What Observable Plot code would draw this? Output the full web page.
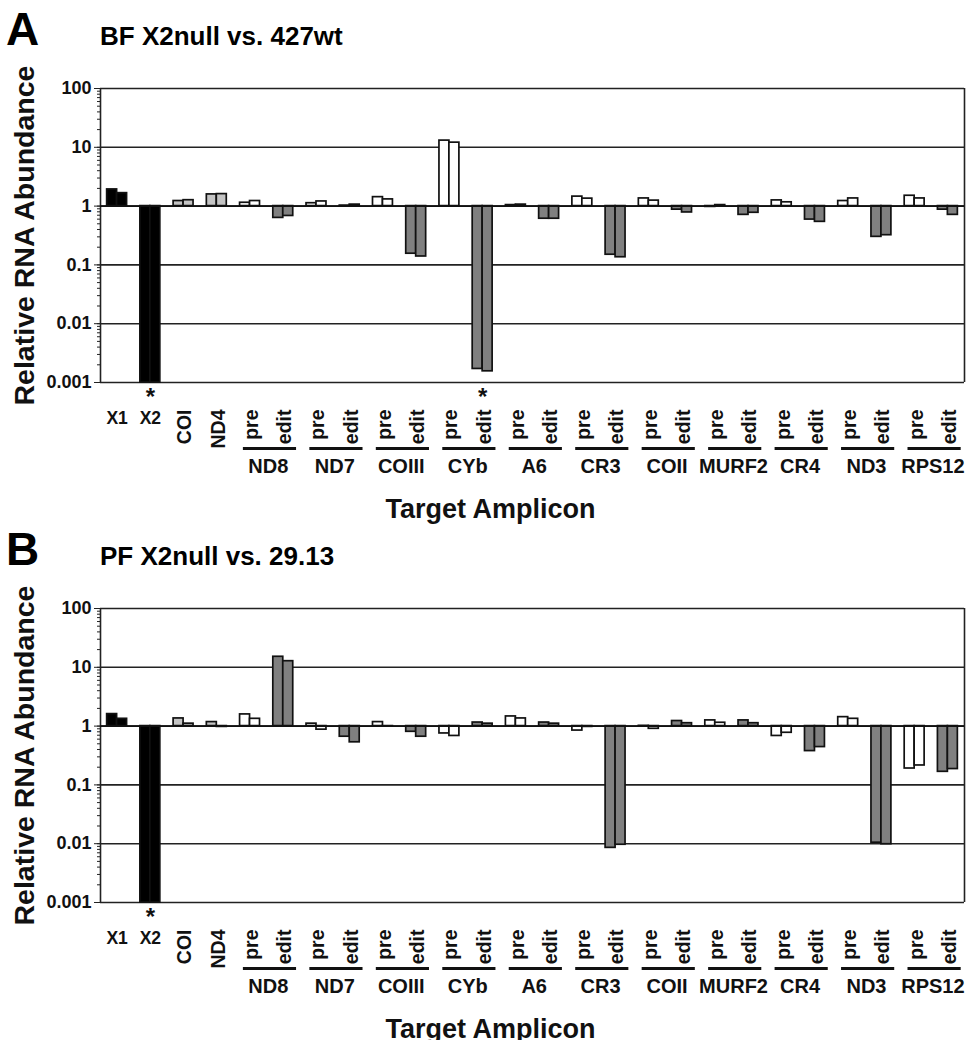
<!DOCTYPE html>
<html>
<head>
<meta charset="utf-8">
<script src="https://cdn.jsdelivr.net/npm/d3@7"></script>
<script src="https://cdn.jsdelivr.net/npm/@observablehq/plot@0.6"></script>
<style>
  body { margin: 0; background: #fff; font-family: "Liberation Sans", Arial, sans-serif; }
  .panel { position: relative; width: 970px; height: 520px; }
  .head { position: relative; height: 60px; }
  .letter { position: absolute; left: 6px; top: 6px; font-size: 46px; font-weight: bold; line-height: 1; }
  .title { position: absolute; left: 100px; top: 23px; font-size: 26px; font-weight: bold; line-height: 1; }
  svg { display: block; }
</style>
</head>
<body>
<div class="panel" id="panelA">
  <div class="head"><span class="letter">A</span><span class="title">BF X2null vs. 427wt</span></div>
</div>
<div class="panel" id="panelB">
  <div class="head"><span class="letter">B</span><span class="title">PF X2null vs. 29.13</span></div>
</div>
<script>
// ---- categories (in axis order) ----
const catLabels = ["X1","X2","COI","ND4",
  "pre","edit","pre","edit","pre","edit","pre","edit","pre","edit","pre","edit",
  "pre","edit","pre","edit","pre","edit","pre","edit","pre","edit"];
const catKinds = ["ko","ko","con","con",
  "pre","edit","pre","edit","pre","edit","pre","edit","pre","edit","pre","edit",
  "pre","edit","pre","edit","pre","edit","pre","edit","pre","edit"];
const groupNames = ["ND8","ND7","COIII","CYb","A6","CR3","COII","MURF2","CR4","ND3","RPS12"];
const groupStart = [4,6,8,10,12,14,16,18,20,22,24];

// ---- y axis ticks ----
const yTicks = [100, 10, 1, 0.1, 0.01, 0.001];
const yTickLabels = ["100","10","1","0.1","0.01","0.001"];

// ---- Panel A: BF X2null vs. 427wt (two replicates) ----
const bfRep1 = [1.92, 0.001, 1.22, 1.58, 1.14, 0.63, 1.12, 1.02, 1.42, 0.155, 13.0, 0.0017, 1.04, 0.61, 1.45, 0.149, 1.35, 0.87, 0.97, 0.71, 1.25, 0.59, 1.22, 0.30, 1.50, 0.87];
const bfRep2 = [1.66, 0.001, 1.26, 1.60, 1.22, 0.68, 1.20, 1.06, 1.30, 0.139, 12.0, 0.00155, 1.06, 0.61, 1.34, 0.135, 1.24, 0.78, 1.04, 0.77, 1.16, 0.54, 1.35, 0.32, 1.35, 0.71];
const bfStars = [1, 11];

// ---- Panel B: PF X2null vs. 29.13 (two replicates) ----
const pfRep1 = [1.60, 0.001, 1.35, 1.17, 1.58, 15.1, 1.10, 0.66, 1.17, 0.80, 0.75, 1.15, 1.46, 1.15, 0.84, 0.0085, 1.01, 1.22, 1.25, 1.25, 0.68, 0.376, 1.42, 0.0104, 0.19, 0.167];
const pfRep2 = [1.33, 0.001, 1.10, 0.97, 1.33, 12.7, 0.87, 0.53, 0.98, 0.66, 0.68, 1.10, 1.35, 1.10, 0.97, 0.0096, 0.90, 1.12, 1.14, 1.12, 0.77, 0.44, 1.33, 0.0098, 0.214, 0.186];
const pfStars = [1];

const fills = {ko: "#000000", con: "#c4c4c4", pre: "#ffffff", edit: "#808080"};
const FONT = "'Liberation Sans', Arial, Helvetica, sans-serif";

function makePanel(rep1, rep2, stars) {
  const rows = [];
  catLabels.forEach((c, i) => {
    rows.push({i, r: 0, value: rep1[i], kind: catKinds[i]});
    rows.push({i, r: 1, value: rep2[i], kind: catKinds[i]});
  });
  const cats = catLabels.map((label, i) => ({i, label, kind: catKinds[i]}));
  const hLabels = cats.filter(d => d.kind === "ko");
  const rLabels = cats.filter(d => d.kind !== "ko");
  const groups = groupNames.map((name, k) => ({name, i: groupStart[k]}));
  const n = catLabels.length;

  return Plot.plot({
    width: 970,
    height: 460,
    marginTop: 28,
    marginBottom: 138,
    marginLeft: 100,
    marginRight: 6,
    style: {fontFamily: FONT, fontWeight: "bold", fontSize: "18px", overflow: "visible", background: "white", color: "#111"},
    x: {domain: [0, n], axis: null},
    y: {type: "log", domain: [0.001, 100], axis: null},
    marks: [
      Plot.ruleY(yTicks, {stroke: "#222", strokeWidth: 1.6}),
      Plot.ruleX([0, n], {stroke: "#222", strokeWidth: 1.6}),
      Plot.rect(rows, {
        x1: d => d.i + 0.2 + 0.3 * d.r,
        x2: d => d.i + 0.5 + 0.3 * d.r,
        y1: () => 1,
        y2: "value",
        fill: d => fills[d.kind],
        stroke: "#111",
        strokeWidth: 1.7
      }),
      Plot.ruleY([1], {stroke: "#111", strokeWidth: 1.6}),
      // minor log ticks
      Plot.axisY({ticks: 60, tickSize: 3, tickFormat: () => "", fill: "none", stroke: "#222", anchor: "left", label: null}),
      // major ticks + labels
      Plot.axisY({ticks: yTicks, tickSize: 6, tickPadding: 3, tickFormat: d => yTickLabels[yTicks.indexOf(d)], anchor: "left", fontSize: 18, stroke: "#222", label: null}),
      // y axis title
      Plot.text(["Relative RNA Abundance"], {frameAnchor: "left", dx: -76, rotate: -90, textAnchor: "middle", lineAnchor: "middle", fontSize: 28.5, fontWeight: "bold"}),
      // horizontal category labels (X1, X2)
      Plot.text(hLabels, {x: d => d.i + 0.5, frameAnchor: "bottom", dy: 41, lineAnchor: "bottom", text: "label", fontSize: 17.5}),
      // rotated category labels
      Plot.text(rLabels, {x: d => d.i + 0.55, frameAnchor: "bottom", dy: 27, rotate: -90, textAnchor: "end", lineAnchor: "middle", text: "label", fontSize: 19.5}),
      // group underlines
      Plot.ruleY(groups, {x1: d => d.i + 0.3, x2: d => d.i + 1.9, y: () => 0.001, dy: 66, stroke: "#111", strokeWidth: 3}),
      // group names
      Plot.text(groups, {x: d => d.i + 1.05, frameAnchor: "bottom", dy: 90, lineAnchor: "bottom", text: "name", fontSize: 20}),
      // significance asterisks
      Plot.text(stars, {x: d => d + 0.5, frameAnchor: "bottom", dy: 22, lineAnchor: "bottom", text: () => "*", fontSize: 24}),
      // x axis title
      Plot.text(["Target Amplicon"], {frameAnchor: "bottom", dx: -42, dy: 135, lineAnchor: "bottom", fontSize: 27})
    ]
  });
}

document.getElementById("panelA").appendChild(makePanel(bfRep1, bfRep2, bfStars));
document.getElementById("panelB").appendChild(makePanel(pfRep1, pfRep2, pfStars));
</script>
</body>
</html>
